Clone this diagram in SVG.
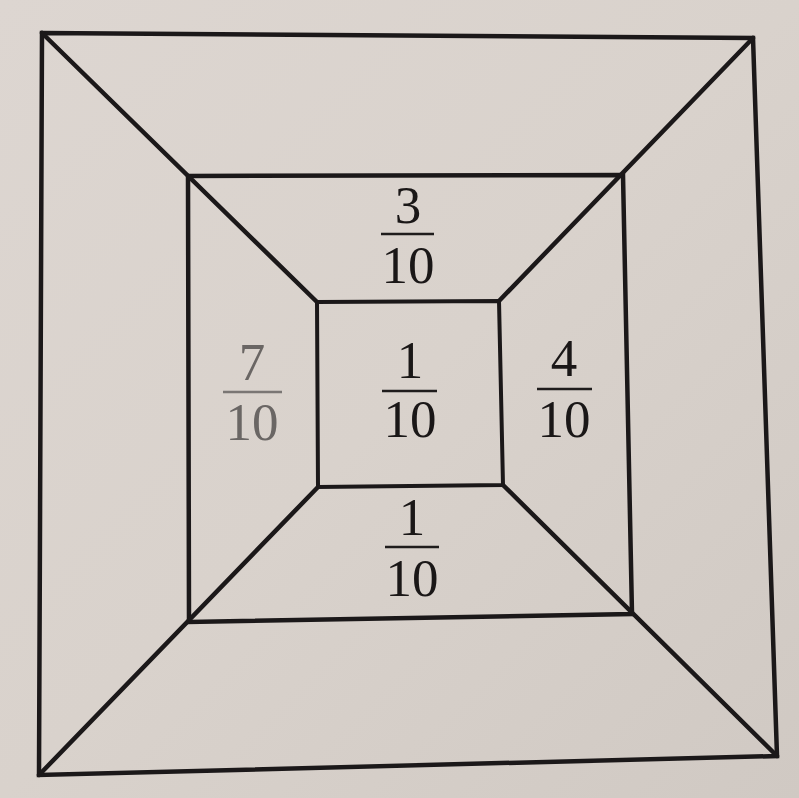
<svg xmlns="http://www.w3.org/2000/svg" width="799" height="798" viewBox="0 0 799 798">
<defs>
<linearGradient id="bg" x1="0" y1="0" x2="1" y2="1">
<stop offset="0" stop-color="#ddd6d1"/>
<stop offset="0.5" stop-color="#d9d2cc"/>
<stop offset="1" stop-color="#d0c9c3"/>
</linearGradient>
<style>
.ln{fill:none;stroke:#1b1819;stroke-width:4.5;stroke-linejoin:miter;stroke-linecap:round}
.in{stroke-width:4}
.t{font-family:"Liberation Serif","Times New Roman",serif;font-size:53px;fill:#1a1717;text-anchor:middle}
.bar{stroke:#1f1c1c;stroke-width:2.4}
.faint .t{fill:#6a6664}
.faint .bar{stroke:#7a7674}
</style>
</defs>
<rect x="0" y="0" width="799" height="798" fill="url(#bg)"/>
<g id="shapes">
<polygon id="outer" class="ln" points="42,33 753,38 777,756 39,775"/>
<polygon id="middle" class="ln" points="188,176 623,175 632,614 189,622"/>
<polygon id="inner" class="ln in" points="317,302 499,301 503,485 318,487"/>
<g id="diagonals">
<line class="ln" x1="42" y1="33" x2="317" y2="302"/>
<line class="ln" x1="753" y1="38" x2="499" y2="301"/>
<line class="ln" x1="777" y1="756" x2="503" y2="485"/>
<line class="ln" x1="39" y1="775" x2="318" y2="487"/>
</g>
</g>
<g id="label-top">
<text class="t" x="408" y="223">3</text>
<line class="bar" x1="381" y1="234" x2="434" y2="234"/>
<text class="t" x="408" y="283">10</text>
</g>
<g id="label-left" class="faint">
<text class="t" x="252" y="380">7</text>
<line class="bar" x1="223" y1="392" x2="282" y2="392"/>
<text class="t" x="252" y="440">10</text>
</g>
<g id="label-center">
<text class="t" x="410" y="378">1</text>
<line class="bar" x1="382" y1="391" x2="437" y2="391"/>
<text class="t" x="410" y="437">10</text>
</g>
<g id="label-right">
<text class="t" x="564" y="376">4</text>
<line class="bar" x1="537" y1="389" x2="592" y2="389"/>
<text class="t" x="564" y="437">10</text>
</g>
<g id="label-bottom">
<text class="t" x="412" y="535">1</text>
<line class="bar" x1="385" y1="547" x2="439" y2="547"/>
<text class="t" x="412" y="596">10</text>
</g>
</svg>
